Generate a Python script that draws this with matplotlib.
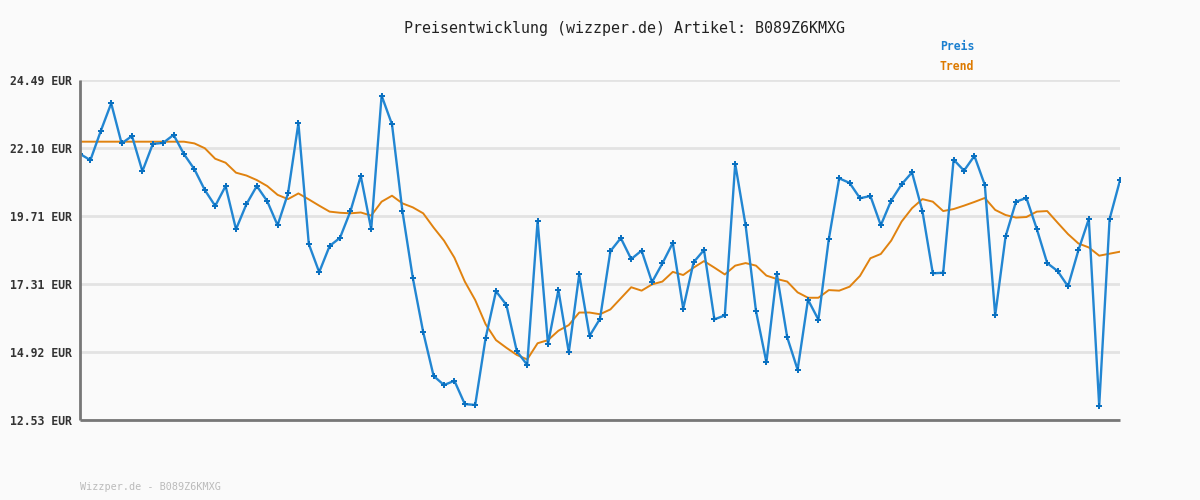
import numpy as np
import matplotlib
matplotlib.use('Agg')
import matplotlib.pyplot as plt

# prices, one point per sample
preis = [21.89, 21.67, 22.70, 23.67, 22.26, 22.52, 21.28, 22.24, 22.28, 22.56,
         21.88, 21.35, 20.62, 20.06, 20.76, 19.24, 20.12, 20.76, 20.23, 19.38,
         20.50, 22.97, 18.72, 17.73, 18.65, 18.94, 19.87, 21.11, 19.24, 23.94,
         22.93, 19.88, 17.53, 15.62, 14.08, 13.76, 13.91, 13.09, 13.06, 15.41,
         17.06, 16.58, 14.95, 14.47, 19.53, 15.20, 17.10, 14.91, 17.65, 15.49,
         16.09, 18.47, 18.93, 18.19, 18.49, 17.38, 18.04, 18.76, 16.45, 18.08,
         18.51, 16.07, 16.21, 21.54, 19.38, 16.36, 14.56, 17.67, 15.44, 14.30,
         16.76, 16.06, 18.89, 21.03, 20.87, 20.33, 20.41, 19.38, 20.25, 20.82,
         21.24, 19.88, 17.69, 17.71, 21.69, 21.30, 21.82, 20.80, 16.21, 18.99,
         20.21, 20.34, 19.25, 18.05, 17.77, 17.23, 18.50, 19.60, 13.03, 19.60,
         20.96]

trend = [22.32, 22.32, 22.32, 22.32, 22.32, 22.32, 22.32, 22.32, 22.32, 22.32,
         22.32, 22.26, 22.09, 21.72, 21.58, 21.23, 21.13, 20.97, 20.76, 20.45,
         20.30, 20.50, 20.29, 20.07, 19.86, 19.82, 19.80, 19.83, 19.72, 20.21,
         20.42, 20.15, 20.01, 19.80, 19.30, 18.84, 18.24, 17.40, 16.75, 15.90,
         15.34, 15.07, 14.82, 14.66, 15.23, 15.34, 15.67, 15.87, 16.31, 16.31,
         16.25, 16.42, 16.81, 17.20, 17.08, 17.30, 17.40, 17.74, 17.63, 17.89,
         18.12, 17.89, 17.65, 17.96, 18.05, 17.96, 17.61, 17.49, 17.40, 17.02,
         16.83, 16.83, 17.10, 17.08, 17.22, 17.60, 18.22, 18.37, 18.84, 19.51,
         19.98, 20.30, 20.21, 19.88, 19.95, 20.07, 20.20, 20.34, 19.92, 19.74,
         19.65, 19.67, 19.86, 19.88, 19.47, 19.07, 18.74, 18.60, 18.31, 18.38,
         18.45]

y_ticks = [12.53, 14.92, 17.31, 19.71, 22.10, 24.49]
artikel = 'B089Z6KMXG'

mono = 'DejaVu Sans Mono'
bg = '#fafafa'
blue = '#2286d2'
orange = '#e0820f'

fig = plt.figure(figsize=(12, 5), dpi=100, facecolor=bg)
ax = fig.add_axes([80/1200, 80/500, 1040/1200, 340/500])
ax.set_facecolor(bg)

x = np.arange(len(preis))
ax.plot(x, trend, color=orange, linewidth=1.4, zorder=3)
ax.plot(x, preis, color=blue, linewidth=1.7, zorder=4,
        marker='P', markersize=4, markerfacecolor='#0a70c0',
        markeredgecolor='#0a70c0', markeredgewidth=0)

ax.set_xlim(0, len(preis) - 1)
ax.set_ylim(y_ticks[0], y_ticks[-1])
ax.set_yticks(y_ticks)
ax.set_yticklabels([f'{v:.2f} EUR' for v in y_ticks],
                   fontfamily=mono, fontsize=8.3, fontweight='bold', color='#333333')
ax.set_xticks([])
ax.tick_params(axis='y', length=0, pad=6)
ax.grid(axis='y', color='#e3e3e3', linewidth=2, zorder=0)

for s in ['top', 'right']:
    ax.spines[s].set_visible(False)
for s in ['left', 'bottom']:
    ax.spines[s].set_color('#777777')
    ax.spines[s].set_linewidth(2.0)
    ax.spines[s].set_zorder(5)
    ax.spines[s].set_capstyle('butt')

fig.text(624/1200, 1 - 28/500, f'Preisentwicklung (wizzper.de) Artikel: {artikel}',
         ha='center', va='center', fontfamily=mono, fontsize=10.8, color='#222222')
fig.text(940/1200, 1 - 46/500, 'Preis', ha='left', va='center',
         fontfamily=mono, fontsize=8.3, fontweight='bold', color='#1a7fcf')
fig.text(940/1200, 1 - 67/500, 'Trend', ha='left', va='center',
         fontfamily=mono, fontsize=8.3, fontweight='bold', color='#dd7a00')
fig.text(80/1200, 1 - 487/500, f'Wizzper.de - {artikel}', ha='left', va='center',
         fontfamily=mono, fontsize=7.3, color='#bbbbbb')

fig.savefig('out.png', dpi=100, facecolor=bg)
